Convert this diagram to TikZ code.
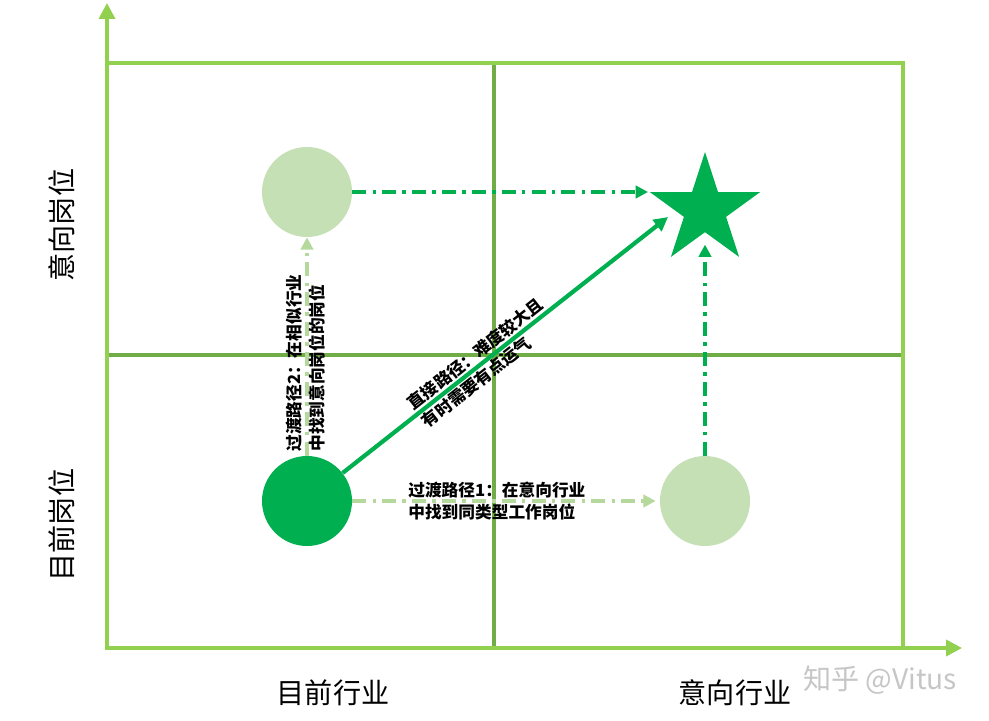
\documentclass[tikz,border=0pt]{standalone}
\usepackage{fontspec}
\setmainfont{Noto Sans CJK SC}
\usepackage{xcolor}
\usetikzlibrary{shapes.geometric, arrows.meta}

\definecolor{axisgreen}{HTML}{92D050}
\definecolor{gridgreen}{HTML}{70AD47}
\definecolor{darkgreen}{HTML}{00B050}
\definecolor{palegreen}{HTML}{C5E0B4}
\definecolor{pathgreen}{HTML}{B5D99C}

\tikzset{
  spot/.style={circle, minimum size=1.8cm, inner sep=0pt},
  route/.style={line width=2.1pt, dash pattern=on 8pt off 3.5pt on 2pt off 3.5pt, -{Triangle[length=7pt,width=7pt]}},
  note/.style={font=\bfseries\fontsize{9.5}{13}\selectfont, align=left, inner sep=0pt, text=black},
  axislabel/.style={font=\fontsize{16}{18}\selectfont, inner sep=0pt},
}

\begin{document}
\begin{tikzpicture}[x=0.02cm, y=-0.02cm]
    \fill[white] (0,0) rectangle (989,720);
    \useasboundingbox (0,0) rectangle (989,720);
    % quadrants
    \draw[gridgreen, line width=1.8pt] (494,63) -- (494,648) (107,355) -- (903,355);
    \draw[axisgreen, line width=1.8pt] (107,63) rectangle (903,648);
    % axes
    \draw[axisgreen, line width=2pt, -{Triangle[length=9pt,width=9pt]}] (107,648) -- (107,3);
    \draw[axisgreen, line width=2pt, -{Triangle[length=9pt,width=9pt]}] (107,648) -- (962,648);

    \node[spot, fill=palegreen] (simjob) at (307,192) {};
    \node[spot, fill=darkgreen] (now) at (307,501) {};
    \node[spot, fill=palegreen] (newind) at (705,501) {};
    \node[star, star points=5, star point ratio=2.618, minimum size=2.32cm, inner sep=0pt, fill=darkgreen] (goal) at (705,210) {};
    \coordinate (goalleft) at (648,192);
    \coordinate (goaldiag) at (668,217);

    \draw[route, darkgreen] (simjob) -- (goalleft);
    \draw[route, darkgreen, shorten >=0.24cm] (newind) -- (goal);
    \draw[route, pathgreen] (now) -- (simjob);
    \draw[route, pathgreen, shorten >=0.08cm] (now) -- (newind);
    \draw[darkgreen, line width=2.4pt, -{Triangle[length=8pt,width=8pt]}] (now) -- (goaldiag)
        node[note, sloped, pos=0.43] (direct) {直接路径：难度较大且\\有时需要有点运气};

    % route notes
    \node[note, rotate=90, anchor=west] (route2) at (306,452) {过渡路径2：在相似行业\\中找到意向岗位的岗位};
    \node[note, anchor=west] (route1) at (408,501) {过渡路径1：在意向行业\\中找到同类型工作岗位};

    % axis labels
    \node[axislabel] (xnow) at (333,693) {目前行业};
    \node[axislabel] (xnew) at (735,693) {意向行业};
    \node[axislabel, rotate=90] (ynew) at (62,225) {意向岗位};
    \node[axislabel, rotate=90] (ynow) at (62,525) {目前岗位};
    \node[axislabel, text=gray!45] (mark) at (880,680) {知乎 @Vitus};
\end{tikzpicture}
\end{document}
